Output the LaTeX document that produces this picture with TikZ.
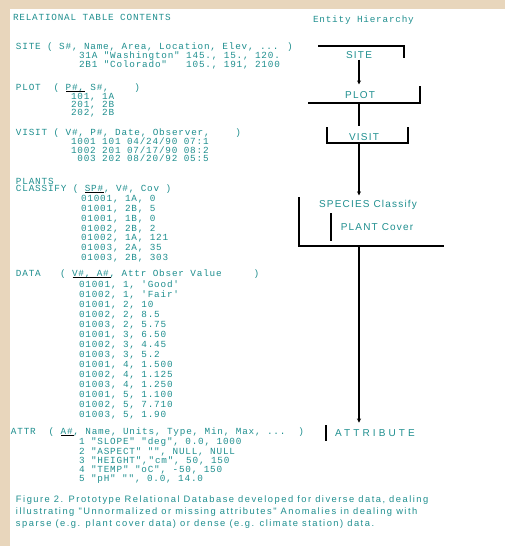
\documentclass[tikz,border=0pt]{standalone}
\usepackage{fontspec}
\setmainfont{Liberation Sans}
\setmonofont{Liberation Mono}
\newfontfamily\tabfont[LetterSpace=8.6]{Liberation Mono}
\newfontfamily\labfont[LetterSpace=12]{Liberation Sans}
\newfontfamily\widefont[LetterSpace=31]{Liberation Sans}
\newfontfamily\capfont[LetterSpace=16]{Liberation Sans}
\usetikzlibrary{arrows.meta, calc}
\definecolor{cteal}{HTML}{1F8F8F}
\definecolor{cpaper}{HTML}{E8D6BC}
\tikzset{
  every picture/.style={x=0.75pt, y=-0.75pt, line width=1.5pt},
  tabtext/.style={anchor=west, inner sep=0pt, text=cteal, font=\tabfont\fontsize{7}{8}\selectfont},
  entity/.style={text=cteal, inner sep=0pt, font=\labfont\fontsize{7.5}{9}\selectfont},
  bracket/.style={draw=black, line width=1.5pt},
  link/.style={draw=black, line width=1.3pt},
  linkend/.style={-{Stealth[length=3pt, width=3pt]}},
  keyline/.style={draw=black, line width=1.1pt},
  caption/.style={anchor=north west, inner sep=0pt, text=cteal, align=left, font=\capfont\fontsize{7}{9}\selectfont},
}

\begin{document}
\begin{tikzpicture}
  \useasboundingbox (0,0) rectangle (505,546);
  \fill[cpaper] (0,0) rectangle (505,546);
  \fill[white] (10,9) rectangle (505,546);

  % headings
  \node[tabtext] (title) at (12,17) {RELATIONAL TABLE CONTENTS};
  \node[tabtext] (side) at (312,20) {Entity Hierarchy};

  % tables with their rows
  \node[tabtext] (hsite) at (15,47) {SITE ( S\#, Name, Area, Location, Elev, ... )};
  \foreach \r [count=\i] in {{31A "Washington" 145., 15., 120.}, {2B1 "Colorado"~~~105., 191, 2100}}
    \node[tabtext] (srow\i) at (78,{47+9*\i}) {\r};

  \node[tabtext] (hplot) at (15,88) {PLOT~~( P\#, S\#,~~~~)};
  \foreach \r [count=\i] in {{101, 1A}, {201, 2B}, {202, 2B}}
    \node[tabtext] (prow\i) at (70,{89+8.2*\i}) {\r};

  \node[tabtext] (hvisit) at (15,133) {VISIT ( V\#, P\#, Date, Observer,~~~~)};
  \foreach \r [count=\i] in {{1001 101 04/24/90 07:1}, {1002 201 07/17/90 08:2}, {~003 202 08/20/92 05:5}}
    \node[tabtext] (vrow\i) at (70,{133+8.5*\i}) {\r};

  \node[tabtext] (hplant) at (15,181) {PLANTS};
  \node[tabtext] (hclass) at (15,189) {CLASSIFY ( SP\#, V\#, Cov )};
  \foreach \r [count=\i] in {{01001, 1A, 0}, {01001, 2B, 5}, {01001, 1B, 0}, {01002, 2B, 2},
                             {01002, 1A, 121}, {01003, 2A, 35}, {01003, 2B, 303}}
    \node[tabtext] (crow\i) at (80,{190+9.7*\i}) {\r};

  \node[tabtext] (hdata) at (15,274) {DATA~~~( V\#, A\#, Attr Obser Value~~~~~)};
  \foreach \r [count=\i] in {{01001, 1, 'Good'}, {01002, 1, 'Fair'}, {01001, 2, 10}, {01002, 2, 8.5},
                             {01003, 2, 5.75}, {01001, 3, 6.50}, {01002, 3, 4.45}, {01003, 3, 5.2},
                             {01001, 4, 1.500}, {01002, 4, 1.125}, {01003, 4, 1.250}, {01001, 5, 1.100},
                             {01002, 5, 7.710}, {01003, 5, 1.90}}
    \node[tabtext] (drow\i) at (78,{275+10*\i}) {\r};

  \node[tabtext] (hattr) at (10,432) {ATTR~~( A\#, Name, Units, Type, Min, Max, ...~~)};
  \foreach \r [count=\i] in {{1 "SLOPE" "deg", 0.0, 1000}, {2 "ASPECT" "", NULL, NULL},
                             {3 "HEIGHT","cm", 50, 150}, {4 "TEMP" "oC", -50, 150}, {5 "pH" "", 0.0, 14.0}}
    \node[tabtext] (arow\i) at (78,{433+9.3*\i}) {\r};

  % key fields
  \draw[keyline] ($(hplot.base west)+(51,1)$) -- ++(19,0);
  \draw[keyline] ($(hclass.base west)+(70,1)$) -- ++(19,0);
  \draw[keyline] ($(hdata.base west)+(57.6,1)$) -- ++(38.4,0);
  \draw[keyline] ($(hattr.base west)+(51.2,1)$) -- ++(12.8,0);

  % entity hierarchy
  \node[entity] (site) at (359,55) {SITE};
  \node[entity] (plot) at (360,95) {PLOT};
  \node[entity] (visit) at (364,137) {VISIT};
  \node[entity] (spec) at (368,205) {SPECIES Classify};
  \node[entity] (cover) at (377,227) {PLANT Cover};
  \node[entity, font=\widefont\fontsize{7.5}{9}\selectfont] (attrib) at (375,433) {ATTRIBUTE};
  \coordinate (junc) at (359,246);

  \draw[bracket] ($(site)+(-41,-9)$) -- ++(86,0) -- ++(0,12);
  \draw[bracket] ($(plot)+(-52,8)$) -- ++(112,0) -- ++(0,-17);
  \draw[bracket] ($(visit)+(-37,-10)$) -- ++(0,16) -- ++(81,0) -- ++(0,-16);
  \draw[bracket] ($(cover.west)+(-9,-14)$) -- ++(0,28);
  \draw[bracket] ($(spec.west)+(-19,-8)$) |- ++(145,49);
  \draw[bracket] ($(attrib.west)+(-8,-8)$) -- ++(0,16);

  \draw[link, linkend, shorten >=4.5pt] (site.south) -- (site.south |- plot.north);
  \draw[link, shorten <=3pt, shorten >=5pt] (site.south |- plot.south) -- (site.south |- visit.north);
  \draw[link, linkend, shorten <=1.5pt, shorten >=3pt] (site.south |- visit.south) -- (site.south |- spec.north);
  \draw[link, linkend, shorten >=4.5pt] (junc) -- (junc |- attrib.north);

  % caption
  \node[caption] (cap) at (15,495) {Figure 2. Prototype Relational Database developed for diverse data, dealing\\
    illustrating "Unnormalized or missing attributes" Anomalies in dealing with\\
    sparse (e.g. plant cover data) or dense (e.g. climate station) data.};
\end{tikzpicture}
\end{document}
